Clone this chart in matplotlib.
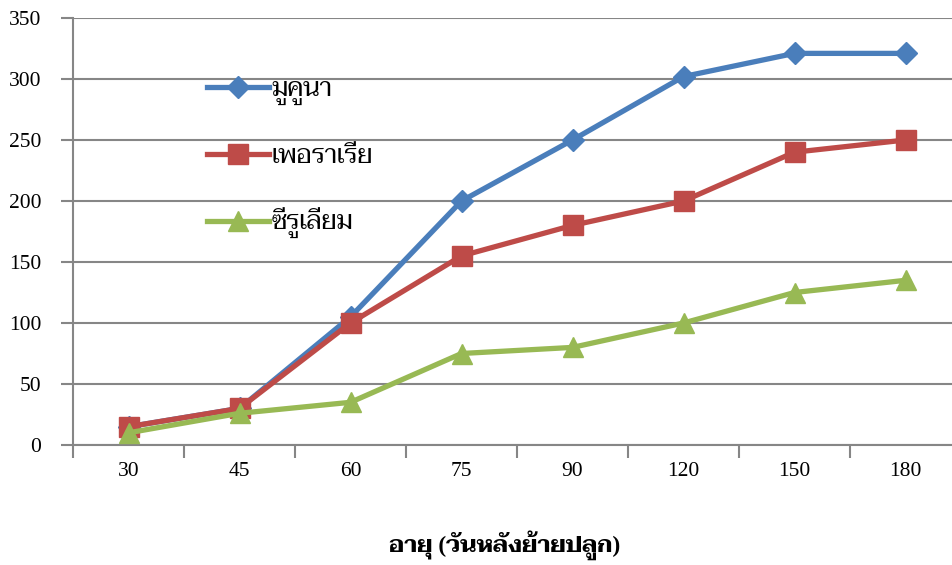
import matplotlib
matplotlib.use("Agg")
import matplotlib.pyplot as plt
from matplotlib.ticker import FixedLocator, NullFormatter

plt.rcParams['font.family'] = ['Liberation Serif', 'Taviraj', 'Sarabun', 'DejaVu Sans']

categories = ['30', '45', '60', '75', '90', '120', '150', '180']
mucuna = [15, 30, 105, 200, 250, 302, 321, 321]
pueraria = [15, 30, 100, 155, 180, 200, 240, 250]
centrosema = [10, 26, 35, 75, 80, 100, 125, 135]
series_names = ['มูคูนา', 'เพอราเรีย', 'ซีรูเลียม']
xlabel = 'อายุ (วันหลังย้ายปลูก)'

fig = plt.figure(figsize=(9.52, 5.65), dpi=100)
ax = fig.add_axes([73/952, 1-445/565, (961-73)/952, (445-18)/565])

x = list(range(len(categories)))
ax.plot(x, mucuna, color='#4A7EBB', lw=3.8, marker='D', ms=11, label=series_names[0], zorder=3)
ax.plot(x, pueraria, color='#BE4B48', lw=3.8, marker='s', ms=14, label=series_names[1], zorder=4)
ax.plot(x, centrosema, color='#98B954', lw=3.8, marker='^', ms=15, label=series_names[2], zorder=5)

ax.set_xlim(-0.5, len(categories) - 0.5)
ax.set_ylim(0, 350)
ax.set_yticks(range(0, 351, 50))
ax.yaxis.grid(True, color='#868686', lw=1.5)
ax.set_axisbelow(True)
ax.set_xticks(x)
ax.set_xticklabels(categories)
ax.xaxis.set_minor_locator(FixedLocator([i - 0.5 for i in range(len(categories) + 1)]))
ax.xaxis.set_minor_formatter(NullFormatter())
ax.tick_params(axis='x', which='major', length=0, pad=12, labelsize=15.5)
ax.tick_params(axis='x', which='minor', length=9, width=1.5, color='#868686', direction='out')
ax.tick_params(axis='y', length=9, width=1.5, color='#868686', direction='out', labelsize=15.5, pad=14)
for s in ['top', 'right']:
    ax.spines[s].set_visible(False)
for s in ['left', 'bottom']:
    ax.spines[s].set_color('#868686')
    ax.spines[s].set_linewidth(1.5)

ax.set_xlabel(xlabel, fontsize=17, fontweight='bold')
ax.xaxis.set_label_coords((505-73)/888, -(545-445)/427)
ax.xaxis.label.set_va('center')

ax.legend(loc='upper left', bbox_to_anchor=(197/952, 1-68/565), bbox_transform=fig.transFigure,
          frameon=False, fontsize=18.5, labelspacing=1.55, handlelength=2.4, handletextpad=0.1,
          borderaxespad=0)

fig.savefig('out.png', dpi=100)
